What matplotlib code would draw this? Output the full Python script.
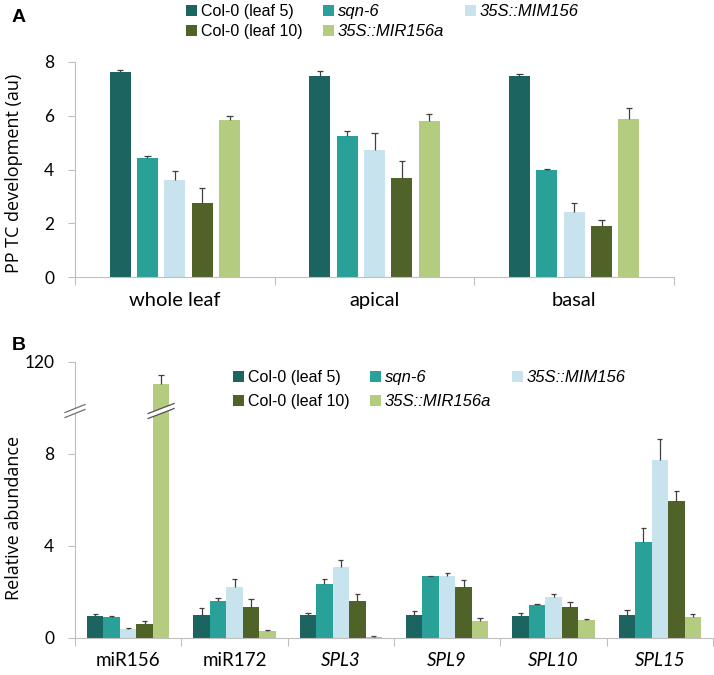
import matplotlib
matplotlib.use('Agg')
import matplotlib.pyplot as plt
import numpy as np
from matplotlib.lines import Line2D
from matplotlib.patches import Polygon

# ----- Data -----
genotypes = ['Col-0 (leaf 5)', 'sqn-6', '35S::MIM156', 'Col-0 (leaf 10)', '35S::MIR156a']
italic_names = ['sqn-6', '35S::MIM156', '35S::MIR156a']
colors = ['#1b645f', '#29a198', '#c6e3ee', '#4f6228', '#b3cc7f']
legend_order = [0, 3, 1, 4, 2]  # column-wise fill of a 3-column legend

regions = ['whole leaf', 'apical', 'basal']
pp_tc = [[7.62, 7.47, 7.48],
         [4.42, 5.24, 3.99],
         [3.60, 4.72, 2.43],
         [2.75, 3.67, 1.89],
         [5.86, 5.81, 5.88]]
pp_tc_err = [[0.09, 0.21, 0.09],
             [0.10, 0.18, 0.04],
             [0.36, 0.62, 0.31],
             [0.57, 0.63, 0.24],
             [0.14, 0.26, 0.40]]

genes = ['miR156', 'miR172', 'SPL3', 'SPL9', 'SPL10', 'SPL15']
italic_genes = ['SPL3', 'SPL9', 'SPL10', 'SPL15']
abund = [[0.97, 1.01, 0.99, 0.99, 0.96, 1.01],
         [0.90, 1.59, 2.36, 2.67, 1.42, 4.16],
         [0.38, 2.20, 3.10, 2.68, 1.77, 7.71],
         [0.62, 1.36, 1.60, 2.20, 1.36, 5.96],
         [110.0, 0.32, 0.06, 0.72, 0.77, 0.90]]
abund_err = [[0.05, 0.27, 0.11, 0.17, 0.13, 0.21],
             [0.04, 0.16, 0.18, 0.04, 0.07, 0.61],
             [0.05, 0.35, 0.30, 0.16, 0.14, 0.91],
             [0.10, 0.34, 0.31, 0.32, 0.22, 0.42],
             [4.0, 0.04, 0.01, 0.14, 0.04, 0.14]]

# ----- Style -----
W, H = 714, 675
axis_grey = '#bfbfbf'
err_col = '#404040'
tick_font = 'Lato'
text_font = 'Open Sans'
legend_font = 'Liberation Sans'

fig = plt.figure(figsize=(W / 100, H / 100), dpi=100)

def px_rect(l, t, r, b):
    return [l / W, 1 - b / H, (r - l) / W, (b - t) / H]

def style_axis(ax):
    for s in ['top', 'right']:
        ax.spines[s].set_visible(False)
    ax.spines['left'].set_color(axis_grey)
    ax.spines['bottom'].set_color(axis_grey)
    ax.tick_params(axis='y', colors=axis_grey, labelcolor='black', length=5,
                   labelsize=12.5, pad=10)
    for lab in ax.get_yticklabels():
        lab.set_fontfamily(tick_font)

def draw_bars(ax, vals, errs, width, pitch, capw):
    x = np.arange(len(vals[0]))
    for i in range(len(vals)):
        xs = x + (i - 2) * pitch
        v = np.array(vals[i])
        e = np.array(errs[i])
        ax.bar(xs, v, width=width, color=colors[i], label=genotypes[i], zorder=2)
        ax.vlines(xs, v, v + e, color=err_col, lw=0.9, zorder=3)
        ax.hlines(v + e, xs - capw, xs + capw, color=err_col, lw=0.9, zorder=3)

def cat_axis(ax, labels, italics, size, pad):
    n = len(labels)
    ax.set_xlim(-0.5, n - 0.5)
    ax.set_xticks(np.arange(-0.5, n, 1.0))
    ax.set_xticklabels([])
    ax.tick_params(axis='x', colors=axis_grey, length=6, direction='out')
    ax.set_xticks(np.arange(n), minor=True)
    ax.set_xticklabels(labels, minor=True)
    ax.tick_params(axis='x', which='minor', length=0, pad=pad, labelsize=size,
                   labelcolor='black')
    for lab in ax.get_xticklabels(minor=True):
        lab.set_fontfamily(tick_font)
        if lab.get_text() in italics:
            lab.set_style('italic')

def make_legend(ax, loc, spacing):
    handles, labels = ax.get_legend_handles_labels()
    handles = [handles[k] for k in legend_order]
    labels = [labels[k] for k in legend_order]
    leg = ax.legend(handles, labels, ncol=3, loc='upper left', bbox_to_anchor=loc,
                    bbox_transform=fig.transFigure, frameon=False,
                    prop={'family': legend_font, 'size': 11.5},
                    handlelength=0.7, handleheight=0.7, handletextpad=0.22,
                    columnspacing=1.3, labelspacing=spacing, borderpad=0, borderaxespad=0)
    for t in leg.get_texts():
        if t.get_text() in italic_names:
            t.set_style('italic')
            t.set_fontsize(12)
    return leg

# ----- Panel A -----
axA = fig.add_axes(px_rect(75, 62, 674, 277))
draw_bars(axA, pp_tc, pp_tc_err, 0.105, 0.137, 0.016)
axA.set_ylim(0, 8)
axA.set_yticks([0, 2, 4, 6, 8])
style_axis(axA)
cat_axis(axA, regions, [], 14.5, 11)
make_legend(axA, (186 / W, 1 - 4 / H), 0.32)
fig.text(14 / W, 1 - 173 / H, 'PP TC development (au)', rotation=90,
         ha='center', va='center', fontsize=13, family=text_font)
fig.text(12 / W, 1 - 18 / H, 'A', fontsize=14, fontweight='bold',
         family='Liberation Sans', ha='left', va='center')

# ----- Panel B (broken axis) -----
axB = fig.add_axes(px_rect(75, 409, 713, 638))
axB_up = fig.add_axes(px_rect(75, 361.7, 713, 409), sharex=axB)
for ax in (axB, axB_up):
    draw_bars(ax, abund, abund_err, 0.155, 0.155, 0.025)
axB.set_ylim(0, 9.93)
axB.set_yticks([0, 4, 8])
axB_up.set_ylim(98.8, 120)
axB_up.set_yticks([120])
style_axis(axB)
style_axis(axB_up)
axB_up.spines['bottom'].set_visible(False)
cat_axis(axB, genes, italic_genes, 13.5, 10)
axB_up.tick_params(axis='x', which='both', bottom=False, labelbottom=False)
make_legend(axB_up, (233 / W, 1 - 370 / H), 0.55)
fig.text(14 / W, 1 - 518 / H, 'Relative abundance', rotation=90,
         ha='center', va='center', fontsize=13, family=text_font)
fig.text(12 / W, 1 - 346 / H, 'B', fontsize=14, fontweight='bold',
         family='Liberation Sans', ha='left', va='center')

# break marks on the y axis and on the tall bar
fig.canvas.draw()
def break_mark(xd, yd, half_w, rise, gap, line_col):
    pts_lo = [(xd - half_w, yd - rise - gap / 2), (xd + half_w, yd + rise - gap / 2)]
    pts_hi = [(xd - half_w, yd - rise + gap / 2), (xd + half_w, yd + rise + gap / 2)]
    poly = Polygon([pts_lo[0], pts_lo[1], pts_hi[1], pts_hi[0]], closed=True,
                   transform=None, facecolor='white', edgecolor='none', zorder=5)
    fig.add_artist(poly)
    for p in (pts_lo, pts_hi):
        fig.add_artist(Line2D([p[0][0], p[1][0]], [p[0][1], p[1][1]], transform=None,
                              color=line_col, lw=0.9, zorder=6))

x0, y0 = axB.transAxes.transform((0, 1))
break_mark(x0, y0 - 2, 10, 4, 5, '#707070')
xb, _ = axB.transData.transform((0 + 2 * 0.155, 0))
break_mark(xb, y0 - 2, 13, 5, 5, '#505050')

fig.savefig('out.png', dpi=100)
